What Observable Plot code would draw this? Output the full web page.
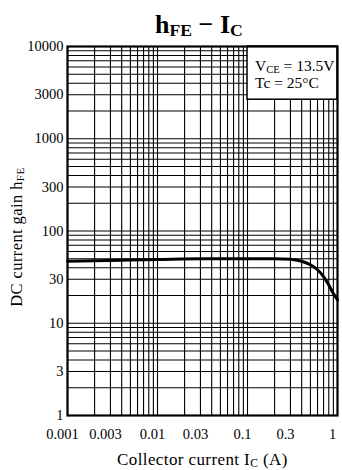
<!DOCTYPE html>
<html><head><meta charset="utf-8">
<script src="https://cdn.jsdelivr.net/npm/d3@7"></script>
<script src="https://cdn.jsdelivr.net/npm/@observablehq/plot@0.6"></script>
<style>
body{margin:0;background:#fff;}
#wrap{position:relative;width:342px;height:470px;font-family:"Liberation Serif","DejaVu Serif",serif;color:#000;}
#wrap svg{position:absolute;left:0;top:0;}
.ov{position:absolute;white-space:nowrap;line-height:1;}
sub{font-size:0.68em;vertical-align:baseline;position:relative;top:0.18em;}
</style></head>
<body><div id="wrap"></div>
<script>
// data
const ic = [0.001, 0.003, 0.01, 0.03, 0.1, 0.2, 0.3, 0.4, 0.5, 0.6, 0.7, 0.8, 0.9, 1.0];
const hfe = [47, 48, 49, 50, 50, 50, 49.5, 47, 43, 38, 32, 26, 21, 18];
const xTicks = [0.001, 0.003, 0.01, 0.03, 0.1, 0.3, 1];
const xTickLabels = ["0.001", "0.003", "0.01", "0.03", "0.1", "0.3", "1"];
const yTicks = [1, 3, 10, 30, 100, 300, 1000, 3000, 10000];
const yTickLabels = ["1", "3", "10", "30", "100", "300", "1000", "3000", "10000"];
const xDomain = [0.001, 1];
const yDomain = [1, 10000];
const legendBox = [{x1: 0.1, x2: 1, y1: 2650, y2: 10000}];

const logGrid = (lo, hi) => {
  const out = [];
  for (let d = Math.log10(lo); d < Math.log10(hi) - 1e-9; d++)
    for (let m = 1; m <= 9; m++) out.push(+(m * Math.pow(10, d)).toPrecision(6));
  out.push(hi);
  return out;
};
const xGrid = logGrid(xDomain[0], xDomain[1]);
const yGrid = logGrid(yDomain[0], yDomain[1]);
const rows = ic.map((x, i) => ({x, y: hfe[i]}));
const xRows = xTicks.map((t, i) => ({t, label: xTickLabels[i]}));
const yRows = yTicks.map((t, i) => ({t, label: yTickLabels[i]}));

const chart = Plot.plot({
  width: 342, height: 470,
  marginLeft: 67, marginRight: 5, marginTop: 46, marginBottom: 55,
  style: {fontFamily: '"Liberation Serif", serif', fontSize: "14.5px", color: "#000", background: "transparent"},
  x: {type: "log", domain: xDomain, axis: null},
  y: {type: "log", domain: yDomain, axis: null},
  marks: [
    Plot.ruleX(xGrid, {x: d => d, stroke: "#000", strokeWidth: 1.1}),
    Plot.ruleY(yGrid, {y: d => d, stroke: "#000", strokeWidth: 1.1}),
    Plot.rect(legendBox, {x1: "x1", x2: "x2", y1: "y1", y2: "y2", fill: "#fff", stroke: "#000", strokeWidth: 1.5}),
    Plot.line(rows, {x: "x", y: "y", stroke: "#000", strokeWidth: 3, curve: "monotone-x"}),
    Plot.frame({stroke: "#000", strokeWidth: 2.2}),
    Plot.text(xRows, {x: "t", text: "label", frameAnchor: "bottom", lineAnchor: "top", dy: 13, dx: -5, fontSize: 14.5, fill: "#000"}),
    Plot.text(yRows, {y: "t", text: "label", frameAnchor: "left", textAnchor: "end", dx: -4, fontSize: 14.5, fill: "#000"})
  ]
});
const wrap = document.getElementById("wrap");
wrap.appendChild(chart);

const add = (html, css) => {
  const d = document.createElement("div");
  d.className = "ov"; d.innerHTML = html; d.style.cssText += css; wrap.appendChild(d);
};
add('h<sub>FE</sub> − I<sub>C</sub>', 'left:155px;top:12px;font-size:26px;font-weight:bold;');
add('Collector current I<sub>C</sub> (A)', 'left:117px;top:451px;font-size:17px;letter-spacing:0.4px;');
add('DC current gain h<sub>FE</sub>', 'left:17px;top:237px;font-size:16.5px;letter-spacing:0.4px;transform:translate(-50%,-50%) rotate(-90deg);');
add('V<sub>CE</sub> = 13.5V<br>Tc = 25°C', 'left:255px;top:58px;font-size:15.5px;line-height:15px;');
</script></body></html>
